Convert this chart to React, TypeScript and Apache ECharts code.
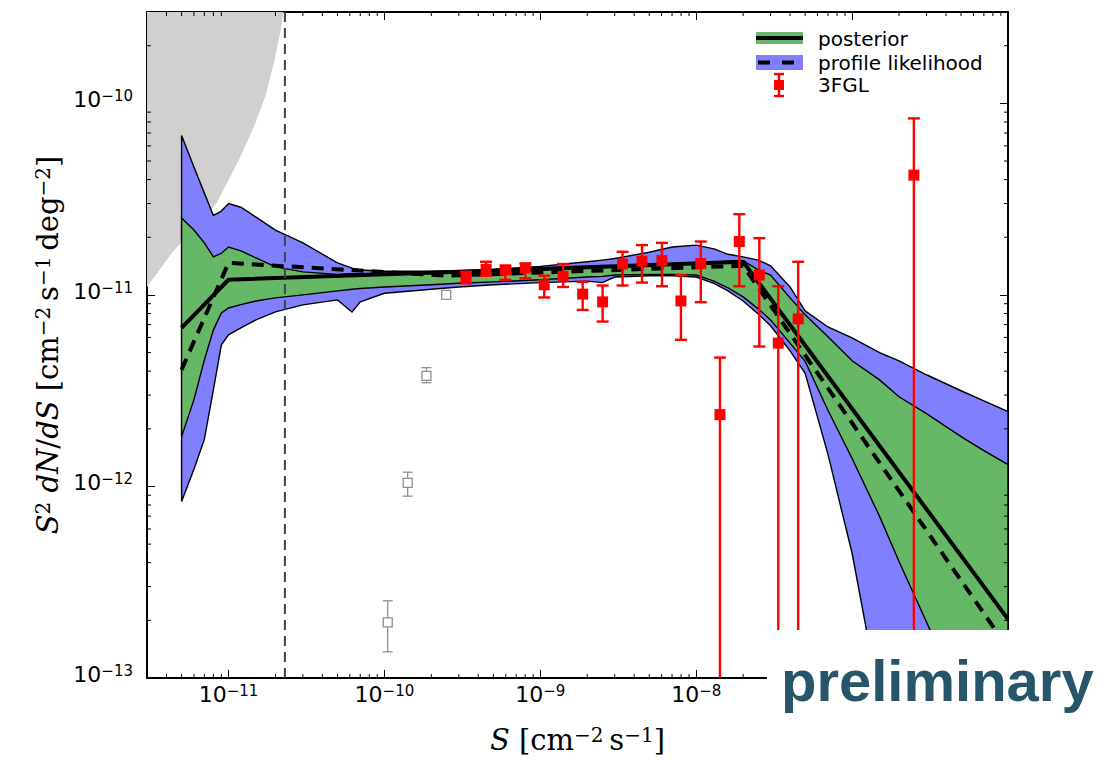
import React, { useEffect, useRef } from 'react';
import * as echarts from 'echarts';

const X_MIN = 3e-12;
const X_MAX = 1e-6;
const Y_MIN = 1e-13;
const Y_MAX = 3e-10;

const GREEN = '#66b866';
const BLUE = '#8080ff';
const GRAY = '#d0d0d0';

// common flux grid for the bands
const bandX = [5e-12, 6e-12, 7e-12, 8e-12, 9e-12, 1e-11, 1.2e-11, 1.5e-11, 2e-11, 3e-11, 5e-11, 6.2e-11, 7e-11,
  1e-10, 2e-10, 3e-10, 5e-10, 1e-9, 2e-9, 2.5e-9, 3e-9, 5e-9, 7e-9,
  1e-8, 1.3e-8, 1.6e-8, 2e-8, 2.5e-8, 3e-8, 4e-8, 5e-8, 7e-8,
  1e-7, 1.5e-7, 2e-7, 3e-7, 5e-7, 7e-7, 1e-6];

const profileUpper = [6.8e-11, 4.65e-11, 3.4e-11, 2.6e-11, 2.74e-11, 3.0e-11, 2.87e-11, 2.55e-11, 2.18e-11, 1.87e-11, 1.47e-11, 1.38e-11, 1.35e-11,
  1.33e-11, 1.33e-11, 1.34e-11, 1.36e-11, 1.41e-11, 1.49e-11, 1.52e-11, 1.55e-11, 1.67e-11, 1.78e-11,
  1.82e-11, 1.74e-11, 1.63e-11, 1.58e-11, 1.52e-11, 1.42e-11, 1.1e-11, 8.25e-12, 6.8e-12,
  5.97e-12, 5.0e-12, 4.53e-12, 3.83e-12, 3.16e-12, 2.8e-12, 2.46e-12];

const profileLower = [8.35e-13, 1.23e-12, 1.76e-12, 3.2e-12, 5.49e-12, 6.19e-12, 6.73e-12, 7.41e-12, 8.15e-12, 8.87e-12, 9.42e-12, 8.15e-12, 9.2e-12,
  1.02e-11, 1.07e-11, 1.1e-11, 1.13e-11, 1.16e-11, 1.18e-11, 1.16e-11, 1.24e-11, 1.26e-11, 1.26e-11,
  1.24e-11, 1.15e-11, 1.05e-11, 9.3e-12, 7.96e-12, 6.9e-12, 5.1e-12, 3.9e-12, 1.47e-12,
  4.48e-13, 7.7e-14, 2.4e-14, 1e-14, 1e-15, 5e-16, 3e-16];

const posteriorUpper = [2.52e-11, 2.18e-11, 1.87e-11, 1.58e-11, 1.65e-11, 1.78e-11, 1.7e-11, 1.56e-11, 1.4e-11, 1.32e-11, 1.28e-11, 1.29e-11, 1.29e-11,
  1.3e-11, 1.31e-11, 1.32e-11, 1.33e-11, 1.35e-11, 1.38e-11, 1.39e-11, 1.4e-11, 1.42e-11, 1.44e-11,
  1.46e-11, 1.48e-11, 1.5e-11, 1.51e-11, 1.35e-11, 1.27e-11, 9.65e-12, 7.87e-12, 6.04e-12,
  4.53e-12, 3.6e-12, 2.94e-12, 2.4e-12, 1.82e-12, 1.54e-12, 1.3e-12];

const posteriorLower = [1.82e-12, 2.84e-12, 4.58e-12, 6.57e-12, 8.06e-12, 8.55e-12, 8.9e-12, 9.3e-12, 9.65e-12, 1e-11, 1.05e-11, 1.07e-11, 1.08e-11,
  1.1e-11, 1.13e-11, 1.15e-11, 1.17e-11, 1.2e-11, 1.24e-11, 1.25e-11, 1.27e-11, 1.28e-11, 1.28e-11,
  1.27e-11, 1.18e-11, 1.09e-11, 9.76e-12, 8.46e-12, 7.4e-12, 5.6e-12, 4.5e-12, 2.5e-12,
  1.4e-12, 6.98e-13, 4.06e-13, 1.96e-13, 7.7e-14, 4e-14, 2e-14];

// best-fit broken power laws
const posteriorX = [5e-12, 1e-11, 2e-8, 1e-6];
const posteriorY = [6.73e-12, 1.2e-11, 1.49e-11, 2.03e-13];
const profileX = [5e-12, 1e-11, 2.5e-10, 2e-8, 1e-6];
const profileY = [4.07e-12, 1.47e-11, 1.26e-11, 1.42e-11, 1.43e-13];

// sensitivity threshold (vertical dashed line)
const thresholdS = 2.3e-11;

// excluded (grey) region boundary
const grayX = [3e-12, 4.38e-12, 6.05e-12, 8.38e-12, 1.18e-11, 1.47e-11, 1.73e-11, 1.97e-11, 2.16e-11, 2.25e-11];
const grayY = [1.1e-11, 1.675e-11, 2.23e-11, 3.01e-11, 5.17e-11, 7.68e-11, 1.1e-10, 1.675e-10, 2.4e-10, 3e-10];

// 3FGL points (lo = 0 : error bar reaches below the plot)
const fglX = [3.34e-10, 4.49e-10, 5.97e-10, 8.02e-10, 1.06e-9, 1.40e-9, 1.87e-9, 2.51e-9, 3.37e-9, 4.49e-9, 6.03e-9, 7.98e-9, 1.07e-8, 1.42e-8, 1.89e-8, 2.54e-8, 3.36e-8, 4.51e-8, 2.49e-7];
const fglY = [1.22e-11, 1.36e-11, 1.35e-11, 1.38e-11, 1.13e-11, 1.25e-11, 1.01e-11, 9.2e-12, 1.45e-11, 1.5e-11, 1.51e-11, 9.3e-12, 1.46e-11, 2.37e-12, 1.9e-11, 1.27e-11, 5.6e-12, 7.5e-12, 4.22e-11];
const fglHi = [1.32e-11, 1.49e-11, 1.42e-11, 1.46e-11, 1.26e-11, 1.45e-11, 1.17e-11, 1.12e-11, 1.68e-11, 1.82e-11, 1.87e-11, 1.27e-11, 1.9e-11, 4.71e-12, 2.64e-11, 1.98e-11, 1.11e-11, 1.49e-11, 8.35e-11];
const fglLo = [1.15e-11, 1.26e-11, 1.2e-11, 1.22e-11, 9.7e-12, 1.1e-11, 8.35e-12, 7.26e-12, 1.12e-11, 1.16e-11, 1.11e-11, 5.83e-12, 9.16e-12, 0, 1.11e-11, 5.38e-12, 0, 0, 0];

// open grey squares
const sqX = [1.05e-10, 1.41e-10, 1.86e-10, 2.49e-10];
const sqY = [1.95e-13, 1.045e-12, 3.78e-12, 1.0e-11];
const sqHi = [2.53e-13, 1.187e-12, 4.17e-12, 1.03e-11];
const sqLo = [1.37e-13, 8.9e-13, 3.48e-12, 0.97e-11];

// tick labels shown (the others lie under the "preliminary" box)
const xLabelExponents = [-11, -10, -9, -8];
const yLabelExponents = [-13, -12, -11, -10];

// minor tick mantissas and decades
const minorMantissas = [2, 3, 4, 5, 6, 7, 8, 9];
const xDecades = [-12, -11, -10, -9, -8, -7];
const yDecades = [-14, -13, -12, -11, -10];

const xMinorTicks: number[] = [];
xDecades.forEach((e) => minorMantissas.forEach((m) => {
  const v = m * Math.pow(10, e);
  if (v > X_MIN * 1.001 && v < X_MAX * 0.999) xMinorTicks.push(v);
}));
const yMinorTicks: number[] = [];
yDecades.forEach((e) => minorMantissas.forEach((m) => {
  const v = m * Math.pow(10, e);
  if (v > Y_MIN * 1.001 && v < Y_MAX * 0.999) yMinorTicks.push(v);
}));

const tickRich = {
  b: { fontFamily: 'DejaVu Sans', fontSize: 22, lineHeight: 22, padding: [10, 0, 0, 0], verticalAlign: 'bottom', color: '#000' },
  s: { fontFamily: 'DejaVu Sans', fontSize: 15, lineHeight: 15, verticalAlign: 'top', color: '#000' },
};

const fmtPow = (allowed: number[]) => (v: number) => {
  const l = Math.log10(v);
  const e = Math.round(l);
  if (Math.abs(l - e) > 1e-6 || allowed.indexOf(e) < 0) return '';
  return `{b|10}{s|${e < 0 ? '\u2212' : ''}${Math.abs(e)}}`;
};

const nameRich = {
  i: { fontFamily: 'DejaVu Serif', fontStyle: 'italic', fontSize: 29, lineHeight: 29, padding: [10, 0, 0, 0], verticalAlign: 'bottom', color: '#000' },
  r: { fontFamily: 'DejaVu Serif', fontSize: 29, lineHeight: 29, padding: [10, 0, 0, 0], verticalAlign: 'bottom', color: '#000' },
  s: { fontFamily: 'DejaVu Serif', fontSize: 20, lineHeight: 20, verticalAlign: 'top', color: '#000' },
};

const bandSeries = (upper: number[], lower: number[], fill: string) => ({
  type: 'custom',
  clip: true,
  silent: true,
  z: 3,
  data: bandX.map((x, i) => [x, upper[i]]),
  encode: { x: 0, y: 1 },
  renderItem: (params: any, api: any) => {
    if (params.dataIndex !== 0) return null;
    const pts: number[][] = [];
    for (let i = 0; i < bandX.length; i++) pts.push(api.coord([bandX[i], upper[i]]));
    for (let i = bandX.length - 1; i >= 0; i--) pts.push(api.coord([bandX[i], lower[i]]));
    return { type: 'polygon', shape: { points: pts }, style: { fill, stroke: '#000', lineWidth: 1.4 } };
  },
});

const errSeries = (xs: number[], ys: number[], lo: number[], hi: number[], color: string, fill: string, size: number, lw: number, z: number) => ({
  type: 'custom',
  clip: true,
  silent: true,
  z,
  data: xs.map((x, i) => [x, ys[i], lo[i], hi[i]]),
  encode: { x: 0, y: 1 },
  renderItem: (params: any, api: any) => {
    const cs = params.coordSys;
    const x = api.value(0);
    const c = api.coord([x, api.value(1)]);
    const top = api.coord([x, api.value(3)])[1];
    const loV = api.value(2);
    const hasLo = loV > 0;
    const bot = hasLo ? api.coord([x, loV])[1] : cs.y + cs.height + 2;
    const capW = size / 2 + 0.5;
    const children: any[] = [
      { type: 'line', shape: { x1: c[0], y1: top, x2: c[0], y2: bot }, style: { stroke: color, lineWidth: lw } },
      { type: 'line', shape: { x1: c[0] - capW, y1: top, x2: c[0] + capW, y2: top }, style: { stroke: color, lineWidth: lw } },
    ];
    if (hasLo) children.push({ type: 'line', shape: { x1: c[0] - capW, y1: bot, x2: c[0] + capW, y2: bot }, style: { stroke: color, lineWidth: lw } });
    children.push({ type: 'rect', shape: { x: c[0] - size / 2, y: c[1] - size / 2, width: size, height: size }, style: { fill, stroke: color, lineWidth: fill === color ? 0 : 1.3 } });
    return { type: 'group', children };
  },
});

const option: any = {
  animation: false,
  backgroundColor: '#fff',
  grid: { left: 147, right: 98, top: 12, bottom: 82, containLabel: false, outerBoundsMode: 'none' },
  xAxis: [
    {
      type: 'log', logBase: 10, min: X_MIN, max: X_MAX, position: 'bottom',
      axisLine: { show: true, lineStyle: { color: '#000', width: 2 } },
      axisTick: { show: true, inside: true, length: 8, lineStyle: { color: '#000', width: 1 } },
      axisLabel: { show: true, margin: 5, formatter: fmtPow(xLabelExponents), rich: tickRich, showMinLabel: true, showMaxLabel: true },
      splitLine: { show: false },
      name: '{i|S}{r| [cm}{s|\u22122}{r|\u2009s}{s|\u22121}{r|]}',
      nameLocation: 'middle', nameGap: 47,
      nameTextStyle: { rich: nameRich },
    },
    {
      type: 'log', logBase: 10, min: X_MIN, max: X_MAX, position: 'top',
      axisLine: { show: true, lineStyle: { color: '#000', width: 2 } },
      axisTick: { show: true, inside: true, length: 8, lineStyle: { color: '#000', width: 1 } },
      axisLabel: { show: false }, splitLine: { show: false },
    },
  ],
  yAxis: [
    {
      type: 'log', logBase: 10, min: Y_MIN, max: Y_MAX, position: 'left',
      axisLine: { show: true, lineStyle: { color: '#000', width: 2 } },
      axisTick: { show: true, inside: true, length: 8, lineStyle: { color: '#000', width: 1 } },
      axisLabel: { show: true, margin: 14, padding: [0, 0, 7, 0], formatter: fmtPow(yLabelExponents), rich: tickRich, showMinLabel: true, showMaxLabel: true },
      splitLine: { show: false },
      name: '{i|S}{s|2}{r| }{i|dN}{r|/}{i|dS}{r| [cm}{s|\u22122}{r|\u2009s}{s|\u22121}{r|\u2009deg}{s|\u22122}{r|]}',
      nameLocation: 'middle', nameRotate: 90, nameGap: 79,
      nameTextStyle: { rich: nameRich },
    },
    {
      type: 'log', logBase: 10, min: Y_MIN, max: Y_MAX, position: 'right',
      axisLine: { show: true, lineStyle: { color: '#000', width: 2 } },
      axisTick: { show: true, inside: true, length: 8, lineStyle: { color: '#000', width: 1 } },
      axisLabel: { show: false }, splitLine: { show: false },
    },
  ],
  series: [
    {
      type: 'custom', clip: true, silent: true, z: 1,
      data: grayX.map((x, i) => [x, grayY[i]]),
      encode: { x: 0, y: 1 },
      renderItem: (params: any, api: any) => {
        if (params.dataIndex !== 0) return null;
        const pts = grayX.map((x, i) => api.coord([x, grayY[i]]));
        pts.push(api.coord([X_MIN, Y_MAX]));
        return { type: 'polygon', shape: { points: pts }, style: { fill: GRAY } };
      },
    },
    bandSeries(profileUpper, profileLower, BLUE),
    bandSeries(posteriorUpper, posteriorLower, GREEN),
    {
      type: 'line', z: 4, silent: true, symbol: 'none',
      data: profileX.map((x, i) => [x, profileY[i]]),
      lineStyle: { color: '#000', width: 4, type: [12, 8] },
    },
    {
      type: 'line', z: 4, silent: true, symbol: 'none',
      data: posteriorX.map((x, i) => [x, posteriorY[i]]),
      lineStyle: { color: '#000', width: 4 },
    },
    {
      type: 'line', z: 5, silent: true, symbol: 'none',
      data: [[thresholdS, Y_MIN], [thresholdS, Y_MAX]],
      lineStyle: { color: '#444', width: 2, type: [10, 6] },
    },
    errSeries(sqX, sqY, sqLo, sqHi, '#909090', '#fff', 9, 1.3, 6),
    errSeries(fglX, fglY, fglLo, fglHi, '#ff0000', '#ff0000', 11, 2.4, 7),
    {
      type: 'custom', silent: true, z: 8,
      data: xMinorTicks.map((v) => [v, 1e-12]),
      encode: { x: 0, y: 1 },
      renderItem: (params: any, api: any) => {
        const cs = params.coordSys;
        const px = api.coord([api.value(0), 1e-12])[0];
        const b = cs.y + cs.height;
        return {
          type: 'group', children: [
            { type: 'line', shape: { x1: px, y1: b, x2: px, y2: b - 4 }, style: { stroke: '#000', lineWidth: 1 } },
            { type: 'line', shape: { x1: px, y1: cs.y, x2: px, y2: cs.y + 4 }, style: { stroke: '#000', lineWidth: 1 } },
          ],
        };
      },
    },
    {
      type: 'custom', silent: true, z: 8,
      data: yMinorTicks.map((v) => [1e-9, v]),
      encode: { x: 0, y: 1 },
      renderItem: (params: any, api: any) => {
        const cs = params.coordSys;
        const py = api.coord([1e-9, api.value(1)])[1];
        const r = cs.x + cs.width;
        return {
          type: 'group', children: [
            { type: 'line', shape: { x1: cs.x, y1: py, x2: cs.x + 4, y2: py }, style: { stroke: '#000', lineWidth: 1 } },
            { type: 'line', shape: { x1: r, y1: py, x2: r - 4, y2: py }, style: { stroke: '#000', lineWidth: 1 } },
          ],
        };
      },
    },
  ],
  graphic: [
    { type: 'rect', z: 50, shape: { x: 756, y: 32, width: 47, height: 12 }, style: { fill: GREEN } },
    { type: 'line', z: 51, shape: { x1: 756, y1: 38, x2: 803, y2: 38 }, style: { stroke: '#000', lineWidth: 4 } },
    { type: 'rect', z: 50, shape: { x: 756, y: 55, width: 47, height: 15 }, style: { fill: BLUE } },
    { type: 'line', z: 51, shape: { x1: 758, y1: 62.5, x2: 796, y2: 62.5 }, style: { stroke: '#000', lineWidth: 4, lineDash: [12, 12] } },
    { type: 'line', z: 51, shape: { x1: 779, y1: 74, x2: 779, y2: 96 }, style: { stroke: '#ff0000', lineWidth: 2.4 } },
    { type: 'line', z: 51, shape: { x1: 774, y1: 74, x2: 784, y2: 74 }, style: { stroke: '#ff0000', lineWidth: 2.4 } },
    { type: 'line', z: 51, shape: { x1: 774, y1: 96, x2: 784, y2: 96 }, style: { stroke: '#ff0000', lineWidth: 2.4 } },
    { type: 'rect', z: 51, shape: { x: 774, y: 80, width: 10, height: 10 }, style: { fill: '#ff0000' } },
    { type: 'text', z: 51, x: 818, y: 39, style: { text: 'posterior', fontFamily: 'DejaVu Sans', fontSize: 20, fill: '#000', verticalAlign: 'middle' } },
    { type: 'text', z: 51, x: 818, y: 63, style: { text: 'profile likelihood', fontFamily: 'DejaVu Sans', fontSize: 20, fill: '#000', verticalAlign: 'middle' } },
    { type: 'text', z: 51, x: 818, y: 85, style: { text: '3FGL', fontFamily: 'DejaVu Sans', fontSize: 20, fill: '#000', verticalAlign: 'middle' } },
    { type: 'rect', z: 100, shape: { x: 767, y: 630, width: 339, height: 130 }, style: { fill: '#fff' } },
    { type: 'text', z: 101, x: 781, y: 680, style: { text: 'preliminary', fontFamily: 'Liberation Sans', fontWeight: 'bold', fontSize: 58, fill: '#27566a', verticalAlign: 'middle' } },
  ],
};

export default function App() {
  const ref = useRef<HTMLDivElement>(null);
  useEffect(() => {
    const chart = echarts.init(ref.current!, null, { renderer: 'svg' });
    chart.setOption(option);
    return () => chart.dispose();
  }, []);
  return <div ref={ref} style={{ position: 'absolute', left: 0, top: 0, width: 1106, height: 760, background: '#fff' }} />;
}
